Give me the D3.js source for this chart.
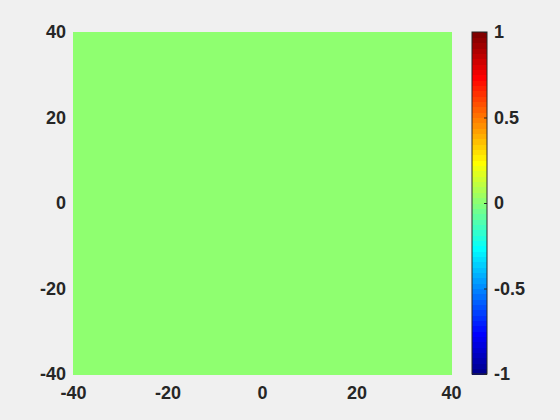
<!DOCTYPE html>
<html>
<head>
<meta charset="utf-8">
<script src="https://cdn.jsdelivr.net/npm/d3@7"></script>
<style>
  body { margin: 0; background: #f0f0f0; }
  text { font-family: "Liberation Sans", Arial, sans-serif; font-weight: bold; fill: #262626; }
</style>
</head>
<body>
<div id="chart"></div>
<script>
// grid edges and values (field is zero everywhere)
var xEdges = [-40, -20, 0, 20, 40];
var yEdges = [-40, -20, 0, 20, 40];
var zValues = [
  [0, 0, 0, 0],
  [0, 0, 0, 0],
  [0, 0, 0, 0],
  [0, 0, 0, 0]
];
var axisTicks = [-40, -20, 0, 20, 40];
var axisLabels = ["-40", "-20", "0", "20", "40"];
var cbarTicks = [-1, -0.5, 0, 0.5, 1];
var cbarLabels = ["-1", "-0.5", "0", "0.5", "1"];
var nColors = 64;

var W = 560, H = 420;
var plot = {left: 73, right: 451, top: 32, bottom: 374};
var cbar = {left: 472, right: 487};

// jet colormap, same construction as matlab's jet(m)
function jet(m) {
  var n = Math.ceil(m / 4);
  var u = [];
  for (var i = 1; i <= n; i++) u.push(i / n);
  for (var i = 1; i < n; i++) u.push(1);
  for (var i = n; i >= 1; i--) u.push(i / n);
  var off = Math.ceil(n / 2) - (m % 4 == 1 ? 1 : 0);
  function pick(k) { return (k >= 1 && k <= u.length) ? u[k - 1] : 0; }
  var out = [];
  for (var k = 1; k <= m; k++) {
    var r = pick(k - off - n), g = pick(k - off), b = pick(k - off + n);
    out.push(d3.rgb(r * 255, g * 255, b * 255).toString());
  }
  return out;
}
var cmap = jet(nColors);

var x = d3.scaleLinear().domain([-40, 40]).range([plot.left, plot.right]);
var y = d3.scaleLinear().domain([-40, 40]).range([plot.bottom, plot.top]);
var c = d3.scaleQuantize().domain([-1, 1]).range(cmap);
var cy = d3.scaleLinear().domain([-1, 1]).range([plot.bottom, plot.top]);

var svg = d3.select("#chart").append("svg")
  .attr("width", W)
  .attr("height", H);

svg.append("rect")
  .attr("width", W).attr("height", H)
  .style("fill", "#f0f0f0");

// cells
var cells = [];
zValues.forEach(function(row, j) {
  row.forEach(function(v, i) {
    cells.push({x0: xEdges[i], x1: xEdges[i + 1], y0: yEdges[j], y1: yEdges[j + 1], v: v});
  });
});

svg.append("g")
  .selectAll("rect")
  .data(cells)
  .enter()
  .append("rect")
    .attr("x", function(d) { return x(d.x0); })
    .attr("y", function(d) { return y(d.y1); })
    .attr("width", function(d) { return x(d.x1) - x(d.x0) + 0.5; })
    .attr("height", function(d) { return y(d.y0) - y(d.y1) + 0.5; })
    .attr("shape-rendering", "crispEdges")
    .style("fill", function(d) { return c(d.v); });

// axes labels (no lines, ticks hidden by the surface)
var xax = d3.axisBottom(x).tickValues(axisTicks)
  .tickFormat(function(d, i) { return axisLabels[i]; })
  .tickSize(0).tickPadding(12);
var yax = d3.axisLeft(y).tickValues(axisTicks)
  .tickFormat(function(d, i) { return axisLabels[i]; })
  .tickSize(0).tickPadding(7);

var gx = svg.append("g")
  .attr("transform", "translate(0," + plot.bottom + ")")
  .call(xax);
var gy = svg.append("g")
  .attr("transform", "translate(" + plot.left + ",0)")
  .call(yax);
[gx, gy].forEach(function(g) {
  g.select(".domain").remove();
  g.selectAll("text").style("font-size", "18px").attr("fill", "#262626");
});

// colorbar
var steps = d3.range(nColors);
var stepH = (plot.bottom - plot.top) / nColors;
svg.append("g")
  .selectAll("rect")
  .data(steps)
  .enter()
  .append("rect")
    .attr("x", cbar.left)
    .attr("y", function(d) { return cy(-1 + 2 * (d + 1) / nColors); })
    .attr("width", cbar.right - cbar.left)
    .attr("height", stepH + 0.5)
    .attr("shape-rendering", "crispEdges")
    .style("fill", function(d) { return cmap[d]; });

svg.append("rect")
  .attr("x", cbar.left)
  .attr("y", plot.top)
  .attr("width", cbar.right - cbar.left)
  .attr("height", plot.bottom - plot.top)
  .style("fill", "none")
  .style("stroke", "#262626")
  .style("stroke-width", 1);

var cax = d3.axisRight(cy)
  .tickValues(cbarTicks)
  .tickFormat(function(d, i) { return cbarLabels[i]; })
  .tickSizeInner(-3)
  .tickSizeOuter(0)
  .tickPadding(7);

var gc = svg.append("g")
  .attr("transform", "translate(" + cbar.right + ",0)")
  .call(cax);
gc.select(".domain").remove();
gc.selectAll("line").attr("stroke", "#262626");
gc.selectAll("text").style("font-size", "18px").attr("fill", "#262626");
</script>
</body>
</html>
